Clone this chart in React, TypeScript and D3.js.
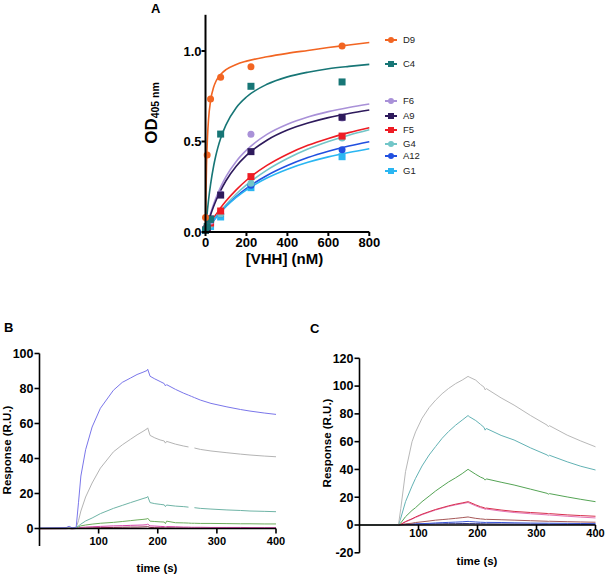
import React from 'react';
import * as d3 from 'd3';

const FONT = "'Liberation Sans', Arial, Helvetica, sans-serif";

// ---------- Panel A data ----------
const concentrations = [0, 8.2, 24.7, 74, 222, 667];
const d9Values = [0.08, 0.425, 0.735, 0.855, 0.913, 1.028];
const c4Values = [0.01, 0.03, 0.07, 0.541, 0.805, 0.829];
const f6Values = [0.01, 0.03, 0.06, 0.21, 0.54, 0.63];
const a9Values = [0.01, 0.02, 0.072, 0.204, 0.444, 0.634];
const f5Values = [0.01, 0.02, 0.05, 0.116, 0.306, 0.53];
const g4Values = [0.01, 0.02, 0.04, 0.1, 0.27, 0.52];
const a12Values = [0.01, 0.02, 0.04, 0.1, 0.258, 0.455];
const g1Values = [0.01, 0.015, 0.03, 0.083, 0.245, 0.416];

// fitted curves read at these concentrations
const fitX = [0, 2, 5, 10, 15, 25, 40, 50, 60, 75, 100, 150, 200, 300, 400, 500, 600, 700, 800];
const d9Fit = [0, 0.191, 0.368, 0.532, 0.625, 0.727, 0.801, 0.83, 0.85, 0.872, 0.897, 0.926, 0.944, 0.968, 0.987, 1.003, 1.019, 1.033, 1.047];
const c4Fit = [0, 0.028, 0.067, 0.126, 0.178, 0.265, 0.366, 0.42, 0.465, 0.521, 0.592, 0.687, 0.746, 0.816, 0.857, 0.883, 0.902, 0.915, 0.926];
const f6Fit = [0, 0.009, 0.023, 0.045, 0.065, 0.104, 0.155, 0.185, 0.213, 0.251, 0.306, 0.39, 0.452, 0.539, 0.595, 0.635, 0.665, 0.688, 0.707];
const a9Fit = [0, 0.008, 0.021, 0.041, 0.059, 0.095, 0.142, 0.17, 0.196, 0.231, 0.283, 0.363, 0.423, 0.507, 0.563, 0.602, 0.632, 0.655, 0.674];
const f5Fit = [0, 0.004, 0.011, 0.021, 0.031, 0.05, 0.077, 0.095, 0.111, 0.135, 0.171, 0.233, 0.286, 0.368, 0.43, 0.479, 0.517, 0.549, 0.576];
const g4Fit = [0, 0.004, 0.009, 0.018, 0.026, 0.043, 0.067, 0.082, 0.097, 0.118, 0.151, 0.21, 0.26, 0.342, 0.406, 0.458, 0.5, 0.535, 0.565];
const a12Fit = [0, 0.004, 0.009, 0.017, 0.025, 0.041, 0.064, 0.078, 0.092, 0.112, 0.142, 0.196, 0.241, 0.312, 0.367, 0.411, 0.446, 0.475, 0.499];
const g1Fit = [0, 0.004, 0.009, 0.017, 0.026, 0.042, 0.064, 0.079, 0.092, 0.111, 0.141, 0.191, 0.233, 0.298, 0.347, 0.385, 0.415, 0.439, 0.46];

const aYTicks = [0, 0.5, 1.0];
const aXTicks = [0, 200, 400, 600, 800];

// ---------- Panel B data ----------
const bTime = [0, 45, 50, 55, 62, 66, 70, 78, 89, 103, 125, 140, 154, 165, 175, 182, 183, 187, 195, 204, 211, 213, 215, 230, 244, 252, 257, 262, 272, 290, 317, 340, 356, 380, 400];
const bBlue = [0.3, 0.5, 1.3, 0.4, 0.7, 15, 30, 45, 58, 68.7, 79, 83.5, 86, 88, 89.3, 90.3, 91, 87, 85.5, 84, 82.8, 81.5, 82.2, 79.5, 77.3, 76.2, 75.5, 74.8, 73.4, 71.5, 69.5, 68, 67.1, 66, 65.2];
const bGray = [0.2, 0.3, 0.3, 0.2, 0.5, 4.5, 10, 18, 26, 34.5, 43.8, 47.8, 51, 53.5, 55.5, 57, 57.5, 53.2, 51.8, 50.6, 50, 48.8, 49.8, 48.2, 47.1, 46.6, null, 46, 45.2, 44.3, 43.3, 42.5, 42, 41.4, 41];
const bTeal = [0.1, 0.2, 0.2, 0.1, 0.5, 1.5, 2.5, 4.3, 6, 8.5, 11.5, 13.2, 14.8, 16, 17.1, 17.8, 18.3, 14.8, 14.2, 13.8, 13.5, 12.5, 13.4, 12.8, 12.5, 12.2, null, 11.9, 11.5, 11.1, 10.6, 10.3, 10, 9.8, 9.6];
const bGreen = [0.1, 0.2, 0.3, 0.1, 0.3, 1, 1.5, 2, 2.5, 3, 3.5, 4, 4.5, 4.9, 5.2, 5.5, 5.9, 4.2, 4, 3.8, 3.7, 2.8, 4.2, 3.3, 3.2, 3.1, 3.0, 3.0, 2.9, 2.9, 2.8, 2.7, 2.7, 2.6, 2.6];
const bMagenta = [0, 0.1, 0.2, 0.1, 0.2, 0.4, 0.6, 0.8, 1, 1.2, 1.5, 1.6, 1.8, 1.9, 2, 2.2, 2.5, 1.5, 1.4, 1.2, 1.1, 0.9, 1.1, 1, 0.8, 0.8, 0.7, 0.7, 0.7, 0.6, 0.6, 0.6, 0.5, 0.5, 0.5];
const bDarkRed = [-0.2, -0.1, 0, -0.2, 0, 0.1, 0.2, 0.3, 0.4, 0.5, 0.6, 0.7, 0.8, 0.8, 0.9, 1, 1.1, 0.6, 0.5, 0.4, 0.4, 0.3, 0.4, 0.3, 0.3, 0.2, 0.2, 0.2, 0.2, 0.1, 0.1, 0.1, 0.1, 0, 0];
const bYTicks = [0, 20, 40, 60, 80, 100];
const bXTicks = [100, 200, 300, 400];

// ---------- Panel C data ----------
const cTime = [0, 40, 60, 66, 70, 78, 89, 95, 106, 118, 129, 140, 151, 163, 174, 184, 186, 197, 205, 211, 213, 215, 240, 262, 290, 318, 320, 322, 352, 375, 400];
const cGray = [0, 0, 0, 0, 12, 38.4, 59.9, 67, 76.8, 84.5, 89.9, 94.5, 98.3, 101.8, 104.3, 107, 106.5, 104.3, 101.2, 99.3, 97.3, 98.2, 91.5, 86.3, 78.8, 71.9, 70.8, 71.5, 64.7, 60.5, 56.3];
const cTeal = [0, 0, 0, 0, 5, 16.8, 28, 33.6, 42.5, 50.4, 56.5, 62.4, 67.3, 71.9, 75.5, 78.8, 78, 75.2, 72.5, 70.3, 68.3, 69.5, 64.5, 61.2, 55.5, 50.4, 49.6, 50.2, 45.5, 42.3, 39.6];
const cGreen = [0, 0, 0, 0, 1.5, 6, 10.5, 12.5, 16.8, 20.8, 24.5, 27.8, 31, 34, 37, 40.1, 39.5, 36.5, 34.5, 33.4, 32.3, 33.2, 30.8, 28.8, 25.8, 22.8, 22.2, 22.6, 20.2, 18.5, 16.8];
const cRed = [0, 0, 0, 0, 0.5, 2.5, 4.5, 5.8, 7.8, 9.6, 11.2, 12.5, 13.8, 15, 15.9, 16.8, 16.5, 14.5, 13.2, 12.5, 12, 12.2, 10.8, 9.8, 9, 8.3, 8.1, 8.2, 7.3, 6.8, 6.3];
const cPink = [0, 0, 0, 0, 0.4, 2.2, 4.2, 5.4, 7.4, 9.2, 10.8, 12.1, 13.4, 14.5, 15.4, 16.2, 15.8, 13.8, 12.5, 11.8, 11.3, 11.5, 10, 9, 8.1, 7.3, 7.1, 7.2, 6.3, 5.7, 5.1];
const cBrown = [0, 0, 0, 0, 0.3, 0.8, 1.3, 1.8, 2.3, 2.9, 3.5, 3.9, 4.3, 4.8, 5.3, 5.8, 5.6, 4.8, 4.4, 4.2, 4, 4.1, 3.8, 3.5, 3.1, 2.7, 2.6, 2.7, 2.4, 2.2, 2];
const cBlue = [0, 0, 0, 0, 0.1, 0.4, 0.6, 0.8, 1, 1.2, 1.5, 1.7, 1.9, 2.1, 2.3, 2.6, 2.5, 2.2, 2, 1.9, 1.8, 1.9, 1.8, 1.6, 1.4, 1.3, 1.3, 1.3, 1.2, 1.1, 1];
const cNavy = [0.2, 0.3, 0.2, 0.3, 0.4, 0.5, 0.6, 0.6, 0.7, 0.7, 0.8, 0.8, 0.9, 0.9, 1, 1, 1, 0.9, 0.9, 0.8, 0.8, 0.8, 0.7, 0.7, 0.6, 0.6, 0.6, 0.6, 0.5, 0.5, 0.5];
const cYTicks = [-20, 0, 20, 40, 60, 80, 100, 120];
const cXTicks = [100, 200, 300, 400];

type Shape = 'circle' | 'square';
const aSeries: { name: string; color: string; shape: Shape; values: number[]; fit: number[] }[] = [
  { name: 'D9', color: '#f26522', shape: 'circle', values: d9Values, fit: d9Fit },
  { name: 'C4', color: '#177676', shape: 'square', values: c4Values, fit: c4Fit },
  { name: 'F6', color: '#a991d8', shape: 'circle', values: f6Values, fit: f6Fit },
  { name: 'A9', color: '#2e1a5c', shape: 'square', values: a9Values, fit: a9Fit },
  { name: 'F5', color: '#ee1c24', shape: 'square', values: f5Values, fit: f5Fit },
  { name: 'G4', color: '#72c6c8', shape: 'circle', values: g4Values, fit: g4Fit },
  { name: 'A12', color: '#2150e0', shape: 'circle', values: a12Values, fit: a12Fit },
  { name: 'G1', color: '#2ab6f2', shape: 'square', values: g1Values, fit: g1Fit },
];
const pointOrder = ['G1', 'A12', 'G4', 'F5', 'F6', 'A9', 'C4', 'D9'];

const bSeries = [
  { color: '#8a2c48', values: bDarkRed },
  { color: '#d445a8', values: bMagenta },
  { color: '#6fae5e', values: bGreen },
  { color: '#6fb4a6', values: bTeal },
  { color: '#b4b4b4', values: bGray },
  { color: '#7a76ea', values: bBlue },
];
const cSeries = [
  { color: '#1f1f6a', values: cNavy },
  { color: '#3a55d6', values: cBlue },
  { color: '#a65858', values: cBrown },
  { color: '#e373b4', values: cPink },
  { color: '#d8304e', values: cRed },
  { color: '#55a455', values: cGreen },
  { color: '#62b2b4', values: cTeal },
  { color: '#b8b8b8', values: cGray },
];

function Marker({ shape, x, y, color, size }: { shape: Shape; x: number; y: number; color: string; size: number }) {
  if (shape === 'circle') return <circle cx={x} cy={y} r={size / 2} fill={color} />;
  return <rect x={x - size / 2} y={y - size / 2} width={size} height={size} fill={color} />;
}

export default function App() {
  // Panel A
  const xA = d3.scaleLinear().domain([0, 800]).range([205.5, 369.3]);
  const yA = d3.scaleLinear().domain([0, 1.2]).range([232, 14.8]);
  const lineA = d3
    .line<[number, number]>()
    .x((d) => xA(d[0]))
    .y((d) => yA(d[1]))
    .curve(d3.curveMonotoneX);
  const legendY = [40, 64, 101, 116, 130, 144, 156, 171];

  // Panel B
  const xB = d3.scaleLinear().domain([0, 400]).range([39.5, 276]);
  const yB = d3.scaleLinear().domain([-10, 100]).range([546, 353.5]);
  // Panel C
  const xC = d3.scaleLinear().domain([0, 400]).range([359.5, 595.5]);
  const yC = d3.scaleLinear().domain([-20, 120]).range([552.8, 358.3]);

  const trace = (xs: d3.ScaleLinear<number, number>, ys: d3.ScaleLinear<number, number>, times: number[], vals: (number | null)[]) =>
    d3
      .line<number>()
      .defined((_, i) => vals[i] != null)
      .x((_, i) => xs(times[i]))
      .y((_, i) => ys(vals[i] as number))(times) || '';

  const bold = { fontFamily: FONT, fontWeight: 700 as const, fill: '#000' };

  return (
    <svg width={606} height={577} style={{ position: 'absolute', left: 0, top: 0, background: '#fff' }}>
      <rect width={606} height={577} fill="#fff" />
      {/* ================= Panel A ================= */}
      <text x={151} y={12.5} fontSize={13} {...bold}>A</text>
      {aSeries.map((s) => (
        <path key={s.name + 'fit'} d={lineA(fitX.map((x, i) => [x, s.fit[i]] as [number, number])) || ''} fill="none" stroke={s.color} strokeWidth={1.6} />
      ))}
      {pointOrder.map((n) => {
        const s = aSeries.find((a) => a.name === n)!;
        return (
          <g key={n + 'pts'}>
            {concentrations.map((c, i) => (
              <Marker key={i} shape={s.shape} x={xA(c)} y={yA(s.values[i])} color={s.color} size={7} />
            ))}
          </g>
        );
      })}
      {/* axes A */}
      <line x1={xA(0)} x2={xA(0)} y1={yA(0) + 1} y2={yA(1.2)} stroke="#000" strokeWidth={2} />
      <line x1={xA(0) - 2} x2={xA(800)} y1={yA(0)} y2={yA(0)} stroke="#000" strokeWidth={2} />
      {aYTicks.map((t) => (
        <g key={'ay' + t}>
          <line x1={xA(0) - 4} x2={xA(0)} y1={yA(t)} y2={yA(t)} stroke="#000" strokeWidth={2} />
          <text x={xA(0) - 4} y={yA(t) + 4.6} fontSize={13} textAnchor="end" {...bold}>{d3.format('.1f')(t)}</text>
        </g>
      ))}
      {aXTicks.map((t) => (
        <g key={'ax' + t}>
          <line x1={xA(t)} x2={xA(t)} y1={yA(0)} y2={yA(0) + 4} stroke="#000" strokeWidth={2} />
          <text x={xA(t)} y={246.5} fontSize={13} textAnchor="middle" {...bold}>{t}</text>
        </g>
      ))}
      <text x={284.5} y={264} fontSize={15} textAnchor="middle" {...bold}>[VHH] (nM)</text>
      <text transform="translate(157,113) rotate(-90)" fontSize={17} textAnchor="middle" {...bold}>
        OD<tspan fontSize={10.5} dy={2}>405 nm</tspan>
      </text>
      {/* legend A */}
      {aSeries.map((s, i) => (
        <g key={s.name + 'leg'}>
          <line x1={385} x2={397} y1={legendY[i]} y2={legendY[i]} stroke={s.color} strokeWidth={2} />
          <Marker shape={s.shape} x={391} y={legendY[i]} color={s.color} size={6} />
          <text x={403} y={legendY[i] + 3.4} fontSize={9.5} fontFamily={FONT} fill="#222">{s.name}</text>
        </g>
      ))}

      {/* ================= Panel B ================= */}
      <text x={4} y={331.7} fontSize={13} {...bold}>B</text>
      {bSeries.map((s, i) => (
        <path key={'b' + i} d={trace(xB, yB, bTime, s.values)} fill="none" stroke={s.color} strokeWidth={1} />
      ))}
      <line x1={xB(0)} x2={xB(0)} y1={yB(-10)} y2={yB(100)} stroke="#000" strokeWidth={1.6} />
      <line x1={xB(0)} x2={xB(400)} y1={yB(0)} y2={yB(0)} stroke="#000" strokeWidth={1.6} />
      {bYTicks.map((t) => (
        <g key={'by' + t}>
          <line x1={xB(0) - 5} x2={xB(0)} y1={yB(t)} y2={yB(t)} stroke="#000" strokeWidth={1.6} />
          <text x={xB(0) - 6} y={yB(t) + 4.4} fontSize={12.5} textAnchor="end" {...bold}>{t}</text>
        </g>
      ))}
      {bXTicks.map((t) => (
        <g key={'bx' + t}>
          <line x1={xB(t)} x2={xB(t)} y1={yB(0)} y2={yB(0) + 5} stroke="#000" strokeWidth={1.6} />
          <text x={xB(t)} y={545} fontSize={11} textAnchor="middle" {...bold}>{t}</text>
        </g>
      ))}
      <text x={157} y={572} fontSize={11.5} textAnchor="middle" {...bold}>time (s)</text>
      <text transform="translate(10.5,450) rotate(-90)" fontSize={11.5} textAnchor="middle" {...bold}>Response (R.U.)</text>

      {/* ================= Panel C ================= */}
      <text x={310} y={333} fontSize={13} {...bold}>C</text>
      {cSeries.map((s, i) => (
        <path key={'c' + i} d={trace(xC, yC, cTime, s.values)} fill="none" stroke={s.color} strokeWidth={1} />
      ))}
      <line x1={xC(0)} x2={xC(0)} y1={yC(-20)} y2={yC(120)} stroke="#000" strokeWidth={1.6} />
      <line x1={xC(0)} x2={xC(400)} y1={yC(0)} y2={yC(0)} stroke="#000" strokeWidth={1.6} />
      {cYTicks.map((t) => (
        <g key={'cy' + t}>
          <line x1={xC(0) - 5} x2={xC(0)} y1={yC(t)} y2={yC(t)} stroke="#000" strokeWidth={1.6} />
          <text x={xC(0) - 6} y={yC(t) + 4.4} fontSize={12.5} textAnchor="end" {...bold}>{t}</text>
        </g>
      ))}
      {cXTicks.map((t) => (
        <g key={'cx' + t}>
          <line x1={xC(t)} x2={xC(t)} y1={yC(0)} y2={yC(0) + 5} stroke="#000" strokeWidth={1.6} />
          <text x={xC(t)} y={537} fontSize={11} textAnchor="middle" {...bold}>{t}</text>
        </g>
      ))}
      <text x={477} y={565} fontSize={11.5} textAnchor="middle" {...bold}>time (s)</text>
      <text transform="translate(331,443) rotate(-90)" fontSize={11.5} textAnchor="middle" {...bold}>Response (R.U.)</text>
    </svg>
  );
}
